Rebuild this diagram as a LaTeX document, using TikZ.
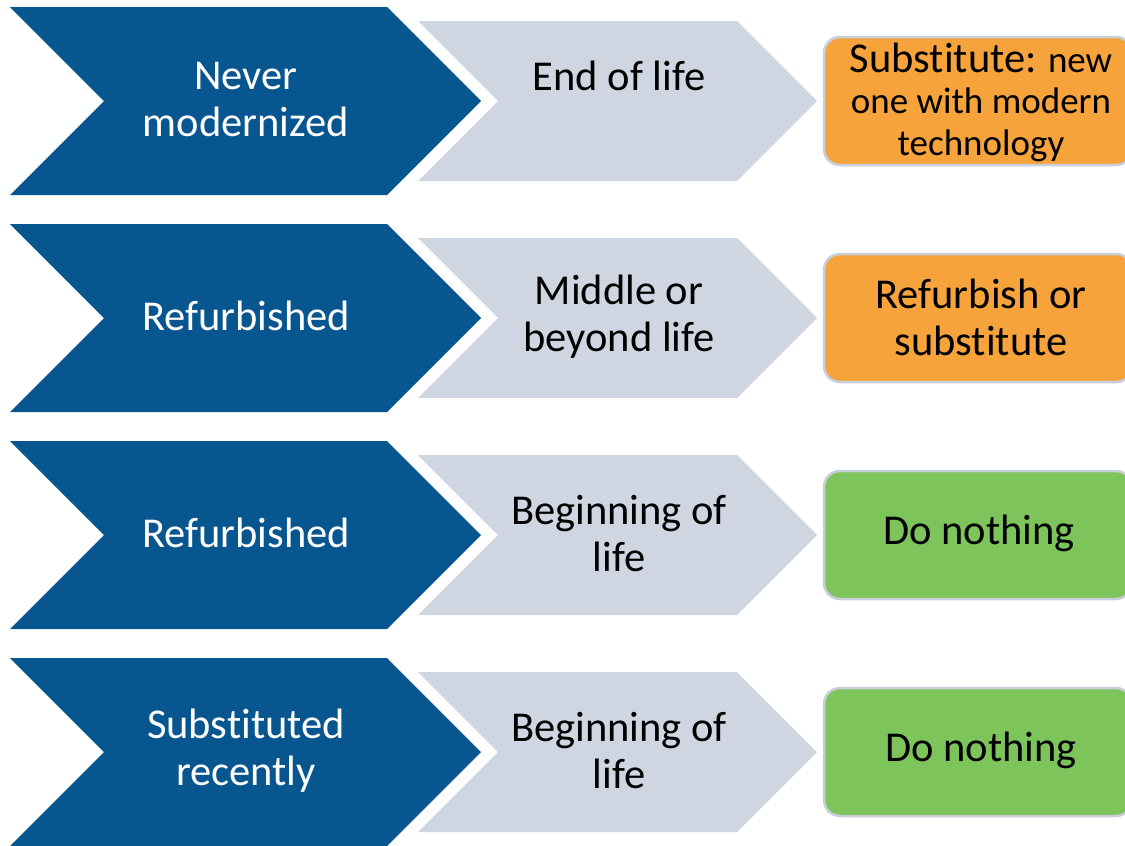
\documentclass[tikz,border=0pt]{standalone}
\usepackage{fontspec}
\setmainfont{Carlito}[Ligatures=NoCommon]
\definecolor{stepblue}{HTML}{085690}
\definecolor{stepgray}{HTML}{CFD5E1}
\definecolor{actorange}{HTML}{F5A33A}
\definecolor{actgreen}{HTML}{7DC45A}
\definecolor{actedge}{HTML}{C9CEDB}
\tikzset{
  bigtext/.style={font=\fontsize{42.5}{47}\selectfont, align=center, inner sep=0pt},
  bluetext/.style={bigtext, text=white},
  graytext/.style={bigtext, text=black},
  actbox/.style={draw=actedge, line width=2.5pt, rounded corners=16pt},
}
\begin{document}
\begin{tikzpicture}[x=1pt, y=-1pt]
\useasboundingbox (0,0) rectangle (1125,846);
\clip (0,0) rectangle (1125,846);

% chevrons and action boxes, one row every 217 units
\foreach \c/\fillc in {101/actorange, 318/actorange, 535/actgreen, 752/actgreen}{
  \fill[stepblue] (10,\c-94) -- (387,\c-94) -- (481,\c) -- (387,\c+94)
                  -- (10,\c+94) -- (104,\c) -- cycle;
  \fill[stepgray] (418,\c-80) -- (737,\c-80) -- (817,\c) -- (737,\c+80)
                  -- (418,\c+80) -- (498,\c) -- cycle;
  \draw[actbox, fill=\fillc] (824,\c-64) rectangle (1132,\c+64);
}

% row 1
\node[bluetext] (state1) at (246,100) {Never\\modernized};
\node[graytext] (age1) at (619,76) {End of life};
\node[graytext, font=\fontsize{37}{41.5}\selectfont] (act1) at (981,102)
  {{\fontsize{42.5}{41.5}\selectfont Substitute:} new\\one with modern\\technology};

% row 2
\node[bluetext] (state2) at (246,316) {Refurbished};
\node[graytext] (age2) at (619,317) {Middle or\\beyond life};
\node[graytext] (act2) at (981,317) {Refurbish or\\substitute};

% row 3
\node[bluetext] (state3) at (246,533) {Refurbished};
\node[graytext] (age3) at (619,534) {Beginning of\\life};
\node[graytext] (act3) at (979,533) {Do nothing};

% row 4
\node[bluetext] (state4) at (246,751) {Substituted\\recently};
\node[graytext] (age4) at (619,751) {Beginning of\\life};
\node[graytext] (act4) at (981,750) {Do nothing};
\end{tikzpicture}
\end{document}
